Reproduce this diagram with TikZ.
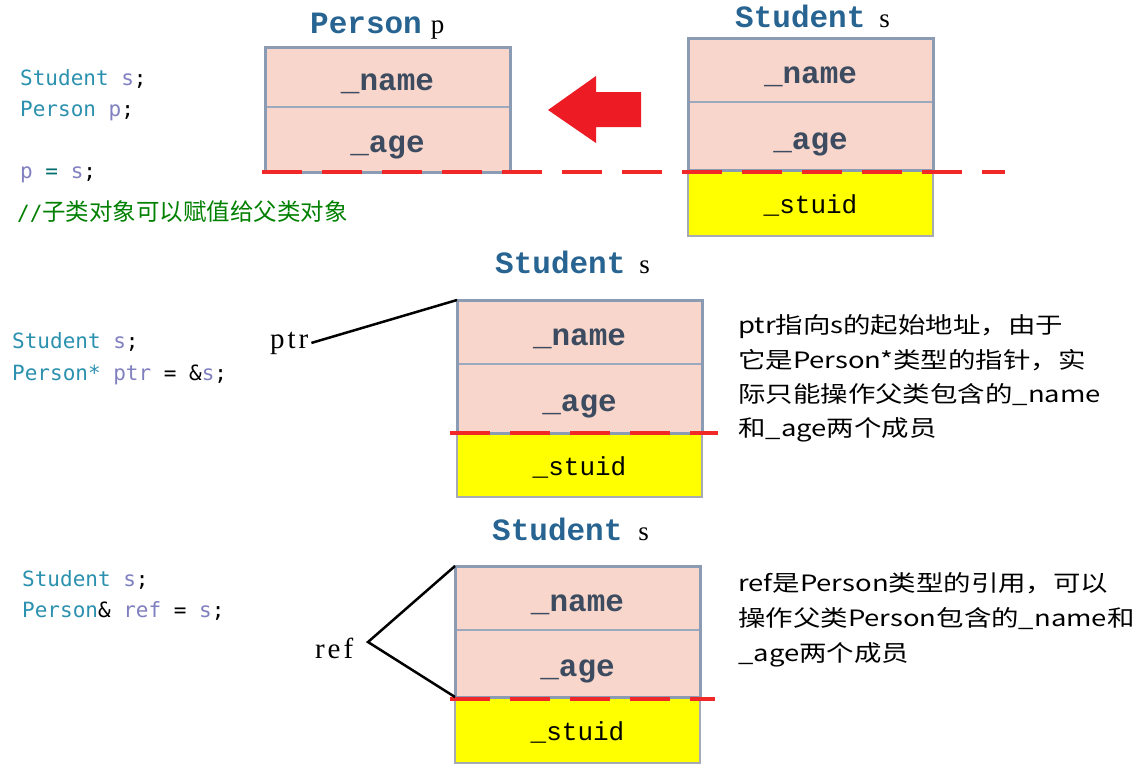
\documentclass[tikz,border=0pt]{standalone}
\usepackage{fontspec}
\newfontfamily\codefont{DejaVu Sans Mono}
\newfontfamily\cjkfont{Noto Sans CJK SC}
\newfontfamily\descfont[FakeStretch=1.22]{Noto Sans CJK SC}
\newfontfamily\monofam{Liberation Mono}
\newfontfamily\lblfont[LetterSpace=10]{Liberation Serif}
\newfontfamily\serfam{Liberation Serif}
\definecolor{typec}{RGB}{43,145,175}
\definecolor{varc}{RGB}{128,128,192}
\definecolor{opc}{RGB}{0,110,110}
\definecolor{cmtc}{RGB}{0,128,0}
\definecolor{titlec}{RGB}{40,100,145}
\definecolor{cellt}{RGB}{60,75,95}
\definecolor{pinkc}{RGB}{248,214,203}
\definecolor{boxline}{RGB}{140,155,180}
\definecolor{divline}{RGB}{155,168,190}
\definecolor{ylline}{RGB}{165,170,180}
\definecolor{dashred}{RGB}{240,40,40}
\definecolor{arrred}{RGB}{237,28,36}
\definecolor{pureyellow}{RGB}{255,255,0}
\newcommand\TypeC[1]{\textcolor{typec}{#1}}
\newcommand\VarC[1]{\textcolor{varc}{#1}}
\newcommand\TitleTxt[1]{{\monofam\bfseries\fontsize{31}{31}\selectfont\color{titlec}#1}}
\newcommand\SmallVar[1]{{\serfam\fontsize{27}{30}\selectfont #1}}
\newcommand\CellFontCmd{\monofam\bfseries\fontsize{31}{31}\selectfont}
\newcommand\StuFontCmd{\monofam\fontsize{26}{26}\selectfont}
\begin{document}
\begin{tikzpicture}[x=1pt,y=-1pt,
  cellbase/.style={anchor=north west, outer sep=0pt, inner sep=0pt, minimum width=245pt},
  pcell/.style={cellbase, fill=pinkc, draw=divline, line width=1.5pt, text=cellt, font=\CellFontCmd, text height=26pt, text depth=0pt},
  ycell/.style={cellbase, fill=pureyellow, draw=ylline, line width=1.5pt, text=black, font=\StuFontCmd, text height=20pt, text depth=0pt},
  outerbox/.style={draw=boxline, line width=3pt},
  reddash/.style={draw=dashred, line width=4pt, dash pattern=on 40pt off 20pt},
  code/.style={anchor=base west, inner sep=0pt, font=\codefont\fontsize{21}{25}\selectfont},
  title/.style={anchor=base west, inner sep=0pt},
  desc/.style={anchor=base west, inner sep=0pt, font=\descfont\fontsize{22.5}{30}\selectfont},
  lbl/.style={anchor=base west, inner sep=0pt, font=\lblfont\fontsize{29}{32}\selectfont},
  pointer/.style={draw=black, line width=2.5pt},
]
\fill[white] (0,0) rectangle (1145,769);
\useasboundingbox (0,0) rectangle (1145,769);

% ---------- top: code ----------
\node[code] (c1) at (20,85) {\TypeC{Student} \VarC{s};};
\node[code] (c2) at (20,116) {\TypeC{Person} \VarC{p};};
\node[code] (c3) at (20,178) {\VarC{p} \textcolor{opc}{=} \VarC{s};};
\node[anchor=base west, inner sep=0pt, text=cmtc] (c4) at (17,220)
  {{\codefont\fontsize{21}{25}\selectfont //}{\cjkfont\fontsize{23.5}{25}\selectfont 子类对象可以赋值给父类对象}};

% ---------- top: Person p ----------
\node[title] (tp) at (310,33) {\TitleTxt{Person}\hspace{9pt}\SmallVar{p}};
\node[pcell, minimum height=60pt] (pname) at (265,47) {\_name};
\node[pcell, minimum height=65pt] (page) at (265,107) {\_age};
\draw[outerbox] (pname.north west) rectangle (page.south east);

% ---------- top: Student s ----------
\node[title] (ts) at (735,27) {\TitleTxt{Student}\hspace{14pt}\SmallVar{s}};
\node[pcell, minimum height=64pt] (sname) at (688,38) {\_name};
\node[pcell, minimum height=68pt] (sage) at (688,102) {\_age};
\node[ycell, minimum height=66pt] (sstu) at (688,170) {\_stuid};
\draw[outerbox] (sname.north west) rectangle (sage.south east);

% red arrow
\fill[arrred] (548,110) -- (596,76) -- (596,92) -- (641,92) -- (641,127)
  -- (596,127) -- (596,143) -- cycle;

\draw[reddash] (262,172) -- (1005,172);

% ---------- middle ----------
\node[code] (m1) at (12,348) {\TypeC{Student} \VarC{s};};
\node[code] (m2) at (12,380) {\TypeC{Person*} \VarC{ptr} = \&\VarC{s};};
\node[title] (tm) at (495,273) {\TitleTxt{Student}\hspace{14pt}\SmallVar{s}};
\node[pcell, minimum height=64pt] (mname) at (457,300) {\_name};
\node[pcell, minimum height=69pt] (mage) at (457,364) {\_age};
\node[ycell, minimum height=64pt] (mstu) at (457,433) {\_stuid};
\draw[outerbox] (mname.north west) rectangle (mage.south east);
\draw[reddash] (450,433) -- (718,433);
\node[lbl, inner xsep=3pt] (ptr) at (267,348) {ptr};
\draw[pointer] (ptr.east) -- (mname.north west);
\node[desc] (md1) at (738,333) {ptr指向s的起始地址，由于};
\node[desc] (md2) at (738,368) {它是Person*类型的指针，实};
\node[desc] (md3) at (738,402) {际只能操作父类包含的\_name};
\node[desc] (md4) at (738,436) {和\_age两个成员};

% ---------- bottom ----------
\node[code] (b1) at (22,586) {\TypeC{Student} \VarC{s};};
\node[code] (b2) at (22,617) {\TypeC{Person}\&{} \VarC{ref} = \VarC{s};};
\node[title] (tb) at (492,540) {\TitleTxt{Student}\hspace{16pt}\SmallVar{s}};
\node[pcell, minimum height=64pt] (bname) at (455,566) {\_name};
\node[pcell, minimum height=67pt] (bage) at (455,630) {\_age};
\node[ycell, minimum height=66pt] (bstu) at (455,697) {\_stuid};
\draw[outerbox] (bname.north west) rectangle (bage.south east);
\draw[reddash] (450,699) -- (715,699);
\node[lbl] (ref) at (315,658) {ref};
\coordinate (refpt) at (368,642);
\draw[pointer, line join=miter] (bname.north west) -- (refpt) -- (bage.south west);
\node[desc] (bd1) at (738,591) {ref是Person类型的引用，可以};
\node[desc] (bd2) at (738,626) {操作父类Person包含的\_name和};
\node[desc] (bd3) at (738,661) {\_age两个成员};
\end{tikzpicture}
\end{document}
